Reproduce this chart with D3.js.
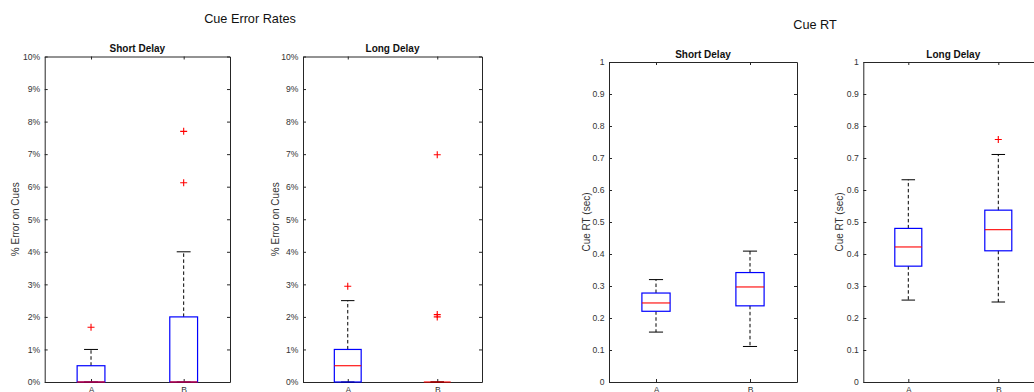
<!DOCTYPE html>
<html>
<head>
<meta charset="utf-8">
<script src="https://cdn.jsdelivr.net/npm/d3@7"></script>
<style>
  html, body { margin: 0; padding: 0; background: #fff; }
  svg { display: block; font-family: "Liberation Sans", Arial, Helvetica, sans-serif; }
</style>
</head>
<body>
<svg id="chart" width="1034" height="392"></svg>
<script>
// ---------- DATA ----------
const groups = ["A", "B"];

// box stats per group: [lowerWhisker, q1, median, q3, upperWhisker]
// error rates in percent
const errShortBox = [[0, 0, 0, 0.5, 1.0], [0, 0, 0, 2.0, 4.0]];
const errShortOutliers = [[1.68], [6.12, 7.70]];
const errLongBox = [[0, 0, 0.5, 1.0, 2.5], [0, 0, 0, 0, 0]];
const errLongOutliers = [[2.94], [2.0, 2.07, 6.98]];

// reaction times in seconds
const rtShortBox = [[0.156, 0.221, 0.247, 0.278, 0.320], [0.111, 0.238, 0.297, 0.342, 0.409]];
const rtShortOutliers = [[], []];
const rtLongBox = [[0.256, 0.362, 0.422, 0.480, 0.632], [0.250, 0.410, 0.476, 0.537, 0.711]];
const rtLongOutliers = [[], [0.758]];

const errTicks = [0, 1, 2, 3, 4, 5, 6, 7, 8, 9, 10];
const rtTicks = [0, 0.1, 0.2, 0.3, 0.4, 0.5, 0.6, 0.7, 0.8, 0.9, 1];

const figTitles = ["Cue Error Rates", "Cue RT"];
const panelTitles = ["Short Delay", "Long Delay", "Short Delay", "Long Delay"];
const yLabels = ["% Error on Cues", "% Error on Cues", "Cue RT (sec)", "Cue RT (sec)"];

// ---------- LAYOUT ----------
const svg = d3.select("#chart");
const AX = "#262626";
const TXT = "#333333";

const panels = [
  { box: errShortBox, out: errShortOutliers, x0: 44.7, x1: 230, y0: 56.5, y1: 382, dom: [0, 10], ticks: errTicks, fmt: d => d + "%", ylx: -26 },
  { box: errLongBox, out: errLongOutliers, x0: 303, x1: 482, y0: 56.5, y1: 382, dom: [0, 10], ticks: errTicks, fmt: d => d + "%", ylx: -24.5 },
  { box: rtShortBox, out: rtShortOutliers, x0: 609, x1: 797, y0: 62, y1: 382, dom: [0, 1], ticks: rtTicks, fmt: d => d3.format("~g")(d), ylx: -19.5 },
  { box: rtLongBox, out: rtLongOutliers, x0: 863.3, x1: 1043.3, y0: 62, y1: 382, dom: [0, 1], ticks: rtTicks, fmt: d => d3.format("~g")(d), ylx: -20 }
];

// figure titles
svg.append("text").attr("x", 250).attr("y", 23).attr("text-anchor", "middle")
  .attr("font-size", 12.7).attr("fill", "#111").text(figTitles[0]);
svg.append("text").attr("x", 815).attr("y", 28.8).attr("text-anchor", "middle")
  .attr("font-size", 12.7).attr("fill", "#111").text(figTitles[1]);

const boxW = 0.3, capW = 0.15;

panels.forEach((p, i) => {
  const x = d3.scaleLinear().domain([0.5, 2.5]).range([p.x0, p.x1]);
  const y = d3.scaleLinear().domain(p.dom).range([p.y1, p.y0]);
  const g = svg.append("g");
  const xt = groups.map((_, k) => k + 1);

  const styleAxis = sel => {
    sel.selectAll("path.domain").attr("stroke", AX).attr("stroke-width", 1);
    sel.selectAll(".tick line").attr("stroke", AX).attr("stroke-width", 1);
    sel.selectAll(".tick text").attr("fill", TXT).attr("font-size", 8.6)
      .attr("font-family", "Liberation Sans, Arial, sans-serif");
  };

  g.append("g").attr("transform", `translate(${p.x0},0)`)
    .call(d3.axisLeft(y).tickValues(p.ticks).tickFormat(p.fmt).tickSizeInner(-3).tickSizeOuter(0).tickPadding(4.5))
    .call(styleAxis);
  g.append("g").attr("transform", `translate(${p.x1},0)`)
    .call(d3.axisRight(y).tickValues(p.ticks).tickFormat("").tickSizeInner(-3).tickSizeOuter(0))
    .call(styleAxis);
  g.append("g").attr("transform", `translate(0,${p.y0})`)
    .call(d3.axisTop(x).tickValues(xt).tickFormat("").tickSizeInner(-3).tickSizeOuter(0))
    .call(styleAxis);
  g.append("g").attr("transform", `translate(0,${p.y1})`)
    .call(d3.axisBottom(x).tickValues(xt).tickFormat(d => groups[d - 1]).tickSizeInner(-3).tickSizeOuter(0).tickPadding(4.5))
    .call(styleAxis);

  // panel title
  g.append("text").attr("x", (p.x0 + p.x1) / 2).attr("y", p.y0 - 4.5)
    .attr("text-anchor", "middle").attr("font-size", 10).attr("font-weight", "bold")
    .attr("fill", "#111").text(panelTitles[i]);

  // y label
  g.append("text")
    .attr("transform", `translate(${p.x0 + p.ylx},${(p.y0 + p.y1) / 2}) rotate(-90)`)
    .attr("text-anchor", "middle").attr("font-size", 10).attr("fill", TXT).text(yLabels[i]);

  // boxes
  p.box.forEach((s, k) => {
    const c = k + 1;
    const [lo, q1, med, q3, hi] = s;
    // whiskers
    g.append("line").attr("x1", x(c)).attr("x2", x(c)).attr("y1", y(q3)).attr("y2", y(hi))
      .attr("stroke", "#000").attr("stroke-width", 1).attr("stroke-dasharray", "3.5,2.5");
    g.append("line").attr("x1", x(c)).attr("x2", x(c)).attr("y1", y(q1)).attr("y2", y(lo))
      .attr("stroke", "#000").attr("stroke-width", 1).attr("stroke-dasharray", "3.5,2.5");
    // caps
    [lo, hi].forEach(v => {
      g.append("line").attr("x1", x(c - capW / 2)).attr("x2", x(c + capW / 2))
        .attr("y1", y(v)).attr("y2", y(v)).attr("stroke", "#000").attr("stroke-width", 1);
    });
    // box
    g.append("rect").attr("x", x(c - boxW / 2)).attr("y", y(q3))
      .attr("width", x(c + boxW / 2) - x(c - boxW / 2)).attr("height", y(q1) - y(q3))
      .attr("fill", "none").attr("stroke", "#0000ff").attr("stroke-width", 1.2);
    // median
    g.append("line").attr("x1", x(c - boxW / 2)).attr("x2", x(c + boxW / 2))
      .attr("y1", y(med)).attr("y2", y(med)).attr("stroke", "#ff0000").attr("stroke-width", 1.1);
    // outliers
    p.out[k].forEach(v => {
      const cx = x(c), cy = y(v), r = 3.5;
      g.append("path").attr("d", `M${cx - r},${cy}H${cx + r}M${cx},${cy - r}V${cy + r}`)
        .attr("stroke", "#ff0000").attr("stroke-width", 1.1).attr("fill", "none");
    });
  });
});
</script>
</body>
</html>
